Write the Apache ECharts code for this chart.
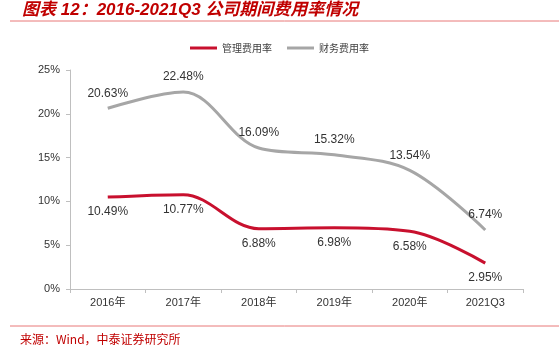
<!DOCTYPE html>
<html>
<head>
<meta charset="utf-8">
<script src="https://cdn.jsdelivr.net/npm/echarts@6/dist/echarts.min.js"></script>
<style>
  html, body { margin: 0; padding: 0; background: #fff; }
  #chart { width: 559px; height: 351px; }
</style>
</head>
<body>
<div id="chart"></div>
<script>
// 数据
var categories = ['2016年', '2017年', '2018年', '2019年', '2020年', '2021Q3'];
var mgmtRate = [10.49, 10.77, 6.88, 6.98, 6.58, 2.95];   // 管理费用率
var finRate = [20.63, 22.48, 16.09, 15.32, 13.54, 6.74]; // 财务费用率
var yTicks = [0, 5, 10, 15, 20, 25];

var chart = echarts.init(document.getElementById('chart'));

var font = 'Arial, "Liberation Sans", "Noto Sans CJK SC", sans-serif';

var option = {
  animation: false,
  backgroundColor: '#fff',
  graphic: [
    {
      type: 'text', left: 22, top: 2,
      style: {
        text: '图表 12：2016-2021Q3 公司期间费用率情况',
        fill: '#C00000', font: 'italic bold 17px Arial, "Noto Sans CJK SC", sans-serif'
      }
    },
    { type: 'line', shape: { x1: 10, y1: 21, x2: 559, y2: 21 }, style: { stroke: '#E87878', lineWidth: 1 } },
    { type: 'line', shape: { x1: 10, y1: 326, x2: 559, y2: 326 }, style: { stroke: '#E87878', lineWidth: 1 } },
    {
      type: 'text', left: 20, top: 333,
      style: { text: '来源：Wind，中泰证券研究所', fill: '#C00000', font: '12px "Noto Sans CJK SC", sans-serif' }
    }
  ],
  legend: {
    top: 38,
    left: 'center',
    itemWidth: 27,
    itemHeight: 3,
    itemGap: 15,
    icon: 'rect',
    textStyle: { fontSize: 10, color: '#404040', fontFamily: '"Noto Sans CJK SC", sans-serif' },
    data: ['管理费用率', '财务费用率']
  },
  grid: { left: 70, right: 36, top: 70, bottom: 62 },
  xAxis: {
    type: 'category',
    data: categories,
    boundaryGap: true,
    axisLine: { lineStyle: { color: '#BFBFBF' } },
    axisTick: { show: true, alignWithLabel: false, length: 4, lineStyle: { color: '#BFBFBF' } },
    axisLabel: { color: '#333', fontSize: 11, fontFamily: font, margin: 8 }
  },
  yAxis: {
    type: 'value',
    min: 0, max: 25, interval: 5,
    splitLine: { show: false },
    axisLine: { show: true, lineStyle: { color: '#BFBFBF' } },
    axisTick: { show: true, length: 4, lineStyle: { color: '#BFBFBF' } },
    axisLabel: {
      color: '#333', fontSize: 11, fontFamily: font, margin: 10,
      formatter: function (v) { return yTicks.indexOf(v) >= 0 ? v + '%' : ''; }
    }
  },
  series: [
    {
      name: '管理费用率',
      type: 'line',
      data: mgmtRate,
      smooth: 0.35,
      symbol: 'circle',
      symbolSize: 0,
      showSymbol: true,
      lineStyle: { color: '#C8102E', width: 3 },
      itemStyle: { color: '#C8102E' },
      label: {
        show: true, position: 'bottom', distance: 9,
        color: '#333', fontSize: 12, fontFamily: font,
        formatter: function (p) { return p.value.toFixed(2) + '%'; }
      }
    },
    {
      name: '财务费用率',
      type: 'line',
      data: finRate,
      smooth: 0.35,
      symbol: 'circle',
      symbolSize: 0,
      showSymbol: true,
      lineStyle: { color: '#A6A6A6', width: 3 },
      itemStyle: { color: '#A6A6A6' },
      label: {
        show: true, position: 'top', distance: 9,
        color: '#333', fontSize: 12, fontFamily: font,
        formatter: function (p) { return p.value.toFixed(2) + '%'; }
      }
    }
  ]
};

chart.setOption(option);
</script>
</body>
</html>
